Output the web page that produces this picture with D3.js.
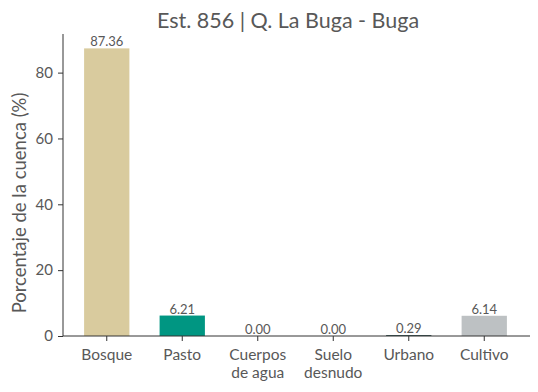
<!DOCTYPE html>
<html><head><meta charset="utf-8">
<script src="https://cdn.jsdelivr.net/npm/d3@7"></script>
<style>body{margin:0;background:#fff;} text{font-family:Lato,"Open Sans",sans-serif;}</style>
</head><body>
<svg id="c" width="538" height="392"></svg>
<script>
const categories = ["Bosque","Pasto","Cuerpos\nde agua","Suelo\ndesnudo","Urbano","Cultivo"];
const values = [87.36, 6.21, 0.00, 0.00, 0.29, 6.14];
const colors = ["#d9cb9e","#009682","#1f6f8b","#8b5a2b","#2f4f4f","#bdc1c3"];
const yTicks = [0,20,40,60,80];
const title = "Est. 856 | Q. La Buga - Buga";
const yLabel = "Porcentaje de la cuenca (%)";

(function(){
const svg = d3.select("#c");
const mL = 63, mR = 530, mT = 34, mB = 336;
const x = d3.scaleBand().domain(categories).range([69, 522]).paddingInner(0.4).paddingOuter(0.2);
const y = d3.scaleLinear().domain([0, 87.36*1.05]).range([mB, mT]);
const grey = "#585858";

svg.append("text").attr("x", 288).attr("y", 28).attr("text-anchor","middle")
  .attr("font-size", 21.5).attr("fill", grey).text(title);

svg.append("text").attr("transform", `translate(26,${(mT+mB)/2 + 18}) rotate(-90)`)
  .attr("text-anchor","middle").attr("font-size", 18.5).attr("fill", grey).text(yLabel);

svg.selectAll("rect.bar").data(values).enter().append("rect")
  .attr("x", (d,i)=>x(categories[i])).attr("width", x.bandwidth())
  .attr("y", d=>y(d)).attr("height", d=>mB - y(d))
  .attr("fill", (d,i)=>colors[i]);

svg.selectAll("text.val").data(values).enter().append("text")
  .attr("x", (d,i)=>x(categories[i]) + x.bandwidth()/2)
  .attr("y", d=>y(d) - 2).attr("text-anchor","middle")
  .attr("font-size", 13).attr("fill", grey).text(d=>d.toFixed(2));

const ya = svg.append("g").attr("transform", `translate(${mL},0)`)
  .call(d3.axisLeft(y).tickValues(yTicks).tickSize(5).tickPadding(5));
ya.select(".domain").attr("d", `M0,${mT}V${mB}`).attr("stroke","#333");
ya.selectAll(".tick line").attr("stroke","#333");
ya.selectAll(".tick text").attr("font-size", 15).attr("fill", grey).attr("font-family", null);

const xa = svg.append("g").attr("transform", `translate(0,${mB})`)
  .call(d3.axisBottom(x).tickSize(5).tickFormat(""));
xa.select(".domain").attr("d", `M${mL},0H${mR}`).attr("stroke","#333");
xa.selectAll(".tick line").attr("stroke","#333");
xa.selectAll(".tick").each(function(c){
  const t = d3.select(this).append("text").attr("y", 24).attr("text-anchor","middle")
    .attr("font-size", 15.5).attr("fill", grey);
  c.split("\n").forEach((l,i)=>t.append("tspan").attr("x", 0).attr("dy", i?18:0).text(l));
});
})();
</script>
</body></html>
